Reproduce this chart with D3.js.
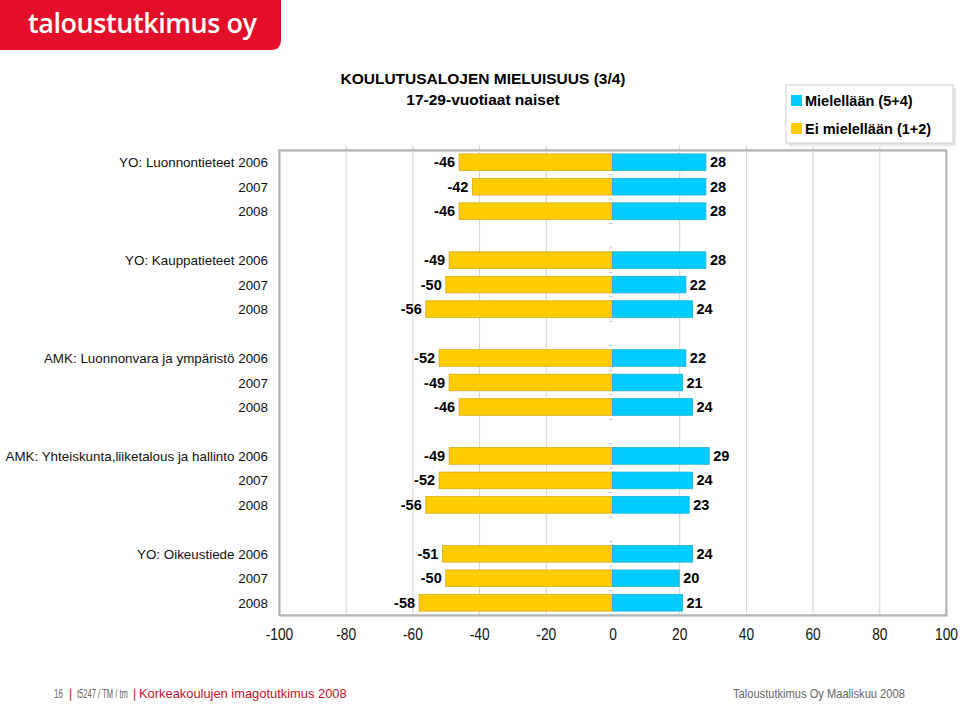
<!DOCTYPE html>
<html><head><meta charset="utf-8">
<script src="https://cdn.jsdelivr.net/npm/d3@7"></script>
<style>body{margin:0;background:#fff}svg{display:block}</style>
</head><body>
<svg id="c" width="960" height="704"></svg>
<script>
const groups = ["YO: Luonnontieteet", "YO: Kauppatieteet", "AMK: Luonnonvara ja ympäristö", "AMK: Yhteiskunta,liiketalous ja hallinto", "YO: Oikeustiede"];
const years = ["2006", "2007", "2008"];
const eiMielellaan = [[-46,-42,-46],[-49,-50,-56],[-52,-49,-46],[-49,-52,-56],[-51,-50,-58]];
const mielellaan = [[28,28,28],[28,22,24],[22,21,24],[29,24,23],[24,20,21]];
const xTicks = [-100,-80,-60,-40,-20,0,20,40,60,80,100];
const seriesNames = ["Mielellään (5+4)", "Ei mielellään (1+2)"];
const colors = ["#00CCFF", "#FFCC00"];

const svg = d3.select("#c");
const font = "'Liberation Sans', Arial, sans-serif";

// logo
svg.append("path").attr("d","M0,0 H281 V40 Q281,50 271,50 H0 Z").attr("fill","#E30F2A");
svg.append("text").attr("x",28).attr("y",33).attr("fill","#fff")
  .attr("font-family","'Open Sans', 'Noto Sans', sans-serif").attr("font-size",27).attr("font-weight",600)
  .attr("textLength",229).text("taloustutkimus oy");

// title
svg.append("text").attr("x",483).attr("y",84).attr("text-anchor","middle").attr("font-family",font)
  .attr("font-size",15.5).attr("font-weight","bold").text("KOULUTUSALOJEN MIELUISUUS (3/4)");
svg.append("text").attr("x",483).attr("y",105).attr("text-anchor","middle").attr("font-family",font)
  .attr("font-size",15.5).attr("font-weight","bold").text("17-29-vuotiaat naiset");

// rows
const rows = [];
groups.forEach((g,gi)=>years.forEach((y,yi)=>rows.push({gi,yi,slot:gi*4+yi,
  label: yi===0 ? g+" "+y : y, neg: eiMielellaan[gi][yi], pos: mielellaan[gi][yi]})));
const nSlots = groups.length*4-1;

const L=279, R=946, T=150, B=615;
const x = d3.scaleLinear().domain([-100,100]).range([L,R]);
const y = d3.scaleBand().domain(d3.range(nSlots)).range([T,B]).paddingInner(0.32).paddingOuter(0.16);

// plot frame shadow + border
svg.append("rect").attr("x",L+1).attr("y",T+1).attr("width",R-L).attr("height",B-T).attr("fill","none").attr("stroke","#c8c8c8").attr("stroke-width",1.5);
// gridlines
svg.append("g").selectAll("line").data(xTicks.filter(d=>d!==-100&&d!==100&&d!==0)).join("line")
  .attr("x1",d=>x(d)+0.5).attr("x2",d=>x(d)+0.5).attr("y1",T-5).attr("y2",B)
  .attr("stroke","#d4d4d4").attr("stroke-width",1);
svg.append("rect").attr("x",L).attr("y",T).attr("width",R-L).attr("height",B-T).attr("fill","none").attr("stroke","#a0a0a0").attr("stroke-width",1.2);

// zero axis ticks
const tickYs = d3.range(nSlots+1).map(i=>T+i*(B-T)/nSlots);
svg.append("g").selectAll("line").data(tickYs).join("line")
  .attr("x1",x(0)-3).attr("x2",x(0)).attr("y1",d=>d).attr("y2",d=>d).attr("stroke","#bbb");

// bars
const bh = y.bandwidth();
const gb = svg.append("g");
gb.selectAll("rect.n").data(rows).join("rect").attr("class","n")
  .attr("x",d=>x(d.neg)).attr("y",d=>y(d.slot)).attr("width",d=>x(0)-x(d.neg)).attr("height",bh)
  .attr("fill",colors[1]).attr("stroke","#d9ad1c").attr("stroke-width",0.8);
gb.selectAll("rect.p").data(rows).join("rect").attr("class","p")
  .attr("x",x(0)).attr("y",d=>y(d.slot)).attr("width",d=>x(d.pos)-x(0)).attr("height",bh)
  .attr("fill",colors[0]).attr("stroke","#1ab0d8").attr("stroke-width",0.8);

// value labels
gb.selectAll("text.n").data(rows).join("text").attr("class","n")
  .attr("x",d=>x(d.neg)-4).attr("y",d=>y(d.slot)+bh/2+5).attr("text-anchor","end")
  .attr("font-family",font).attr("font-size",14.5).attr("font-weight","bold").text(d=>d.neg);
gb.selectAll("text.p").data(rows).join("text").attr("class","p")
  .attr("x",d=>x(d.pos)+4).attr("y",d=>y(d.slot)+bh/2+5).attr("text-anchor","start")
  .attr("font-family",font).attr("font-size",14.5).attr("font-weight","bold").text(d=>d.pos);

// category labels
svg.append("g").selectAll("text").data(rows).join("text")
  .attr("x",268).attr("y",d=>y(d.slot)+bh/2+5).attr("text-anchor","end")
  .attr("font-family",font).attr("font-size",13.4).attr("fill","#111").text(d=>d.label);

// x axis
const xa = svg.append("g").attr("transform",`translate(0,${B})`)
  .call(d3.axisBottom(x).tickValues(xTicks).tickSize(0).tickPadding(14).tickFormat(d3.format("d")));
xa.select(".domain").remove();
xa.selectAll("text").attr("font-family",font).attr("font-size",16).attr("fill","#111")
  .attr("transform","scale(0.86,1)")
  .text(d=>d<0 ? "-"+Math.abs(d) : d);

// legend
const lg = svg.append("g");
lg.append("rect").attr("x",789).attr("y",88).attr("width",167).attr("height",58).attr("fill","#e6e6e6");
lg.append("rect").attr("x",786).attr("y",85).attr("width",167).attr("height",58).attr("fill","#fff").attr("stroke","#cfcfcf");
seriesNames.forEach((s,i)=>{
  const yy = 101 + i*28;
  lg.append("rect").attr("x",791).attr("y",yy-6).attr("width",11).attr("height",11).attr("fill",colors[i]);
  lg.append("text").attr("x",805).attr("y",yy+5).attr("font-family",font).attr("font-size",14.5).attr("font-weight","bold").text(s);
});

// footer: condensed pieces scaled to target widths
[[54,"16","#666",9],[69,"|","#c8102e",0],[77,"t5247 / TM / tm","#666",51],[133,"|","#c8102e",0],
 [139,"Korkeakoulujen imagotutkimus 2008","#c8102e",208],[733,"Taloustutkimus Oy Maaliskuu 2008","#666",172]]
.forEach(([xp,t,c,w])=>{
  const g = svg.append("g");
  const tx = g.append("text").attr("x",0).attr("y",0).attr("font-family",font).attr("font-size",12).attr("fill",c).text(t);
  const nat = tx.node().getComputedTextLength();
  const sx = w ? w/nat : 1;
  g.attr("transform",`translate(${xp},698) scale(${sx},1)`);
});
</script>
</body></html>
